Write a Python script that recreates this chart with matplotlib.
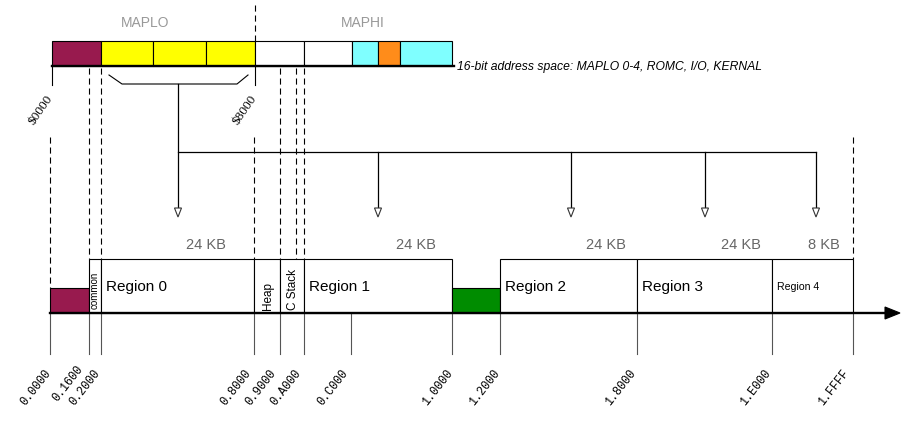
#!/usr/bin/env python3
"""Memory map diagram: 16-bit CPU view (MAPLO/MAPHI) over the 128 KB banked space."""

import matplotlib.pyplot as plt
from matplotlib.patches import Polygon, Rectangle

W, H = 902, 434
SANS = "Liberation Sans"
MONO = "Liberation Mono"
SERIF = "Liberation Serif"
DASH = (0, (5.5, 3.5))

# --- data ---------------------------------------------------------------
TOP_COLORS = ["#981A4E", "#FFFF00", "#FFFF00", "#FFFF00", "white", "white",
              "#7FFFFF", "#FF8C1A", "#7FFFFF"]
TOP_LABELS = ["$0000", "$8000"]
MAP_NAMES = ["MAPLO", "MAPHI"]
CAPTION = "16-bit address space: MAPLO 0-4, ROMC, I/O, KERNAL"

REGION_NAMES = ["", "common", "Region 0", "Heap", "C Stack", "Region 1", "",
                "Region 2", "Region 3", "Region 4"]
REGION_COLORS = ["#981A4E", "white", "white", "white", "white", "white",
                 "#008C00", "white", "white", "white"]
SIZE_LABELS = ["24 KB", "24 KB", "24 KB", "24 KB", "8 KB"]
TICK_LABELS = ["0.0000", "0.1600", "0.2000", "0.8000", "0.9000", "0.A000",
               "0.C000", "1.0000", "1.2000", "1.8000", "1.E000", "1.FFFF"]

# --- layout (pixel positions of the hand-drawn diagram) ------------------
TOP_EDGES = [52, 101, 153, 206, 255, 304, 352, 378, 400, 452]
TOP_Y0, TOP_Y1 = 41, 66
TOP_LABEL_END = [(50, 96), (254, 96)]
MAP_NAME_X = [145, 363]

REGION_EDGES = [50, 89, 101, 254, 280, 304, 452, 500, 637, 772, 853]
REGION_TOP = [288, 259, 259, 259, 259, 259, 288, 259, 259, 259]
AXIS_Y = 313
SIZE_X = [206, 416, 606, 741, 824]
TICK_X = [50, 89, 101, 254, 280, 304, 351, 452, 500, 637, 772, 853]
TICK_LABEL_END = [(49, 371), (81, 367), (98, 371), (249, 371), (274, 371),
                  (299, 371), (346, 371), (451, 371), (498, 371), (634, 371),
                  (769, 371), (847, 371)]
GUIDE_X = [89, 101, 280, 296, 304]
DROP_X = [178, 378, 571, 705, 816]


def main() -> None:
    fig = plt.figure(figsize=(W / 100, H / 100), dpi=100)
    fig.patch.set_facecolor("white")
    ax = fig.add_axes([0, 0, 1, 1])
    ax.set_xlim(0, W)
    ax.set_ylim(H, 0)
    ax.axis("off")

    # top 16-bit map
    for x0, x1, c in zip(TOP_EDGES[:-1], TOP_EDGES[1:], TOP_COLORS):
        ax.add_patch(Rectangle((x0, TOP_Y0), x1 - x0, TOP_Y1 - TOP_Y0,
                               facecolor=c, edgecolor="black", linewidth=0.8, zorder=2))
    ax.plot([TOP_EDGES[0], TOP_EDGES[-1] + 2], [TOP_Y1, TOP_Y1], color="black", lw=1.7, zorder=3)
    ax.text(TOP_EDGES[-1] + 5, TOP_Y1 + 1, CAPTION, fontsize=8.7, style="italic",
            family=SANS, ha="left", va="center")
    for name, x in zip(MAP_NAMES, MAP_NAME_X):
        ax.text(x, 23, name, fontsize=10, color="#999999", family=SANS, ha="center", va="center")

    # $8000 boundary above the bar
    ax.plot([255, 255], [5, TOP_Y0], color="black", lw=0.8, ls=DASH)

    # address labels of the 16-bit map
    for lbl, (ex, ey), tx in zip(TOP_LABELS, TOP_LABEL_END, [52, 255]):
        ax.plot([tx, tx], [TOP_Y1, 85], color="black", lw=0.8)
        ax.text(ex, ey, lbl, fontsize=9.5, family=SERIF, rotation=55,
                rotation_mode="anchor", ha="right", va="center")

    # dashed guides down to the banked view
    ax.plot([50, 50], [137, REGION_TOP[0]], color="black", lw=0.8, ls=DASH)
    ax.plot([254, 254], [137, 259], color="black", lw=0.8, ls=DASH)
    ax.plot([853, 853], [137, 259], color="black", lw=0.8, ls=DASH)
    for x in GUIDE_X:
        ax.plot([x, x], [TOP_Y1 + 2, 259], color="black", lw=0.8, ls=DASH)

    # bracket and fan-out arrows
    ax.plot([109, 122, 237, 248], [75, 84, 84, 75], color="black", lw=0.8)
    ax.plot([DROP_X[0], DROP_X[-1]], [152, 152], color="black", lw=0.9)
    for x in DROP_X:
        y_start = 84 if x == DROP_X[0] else 152
        ax.plot([x, x], [y_start, 208], color="black", lw=0.9)
        ax.add_patch(Polygon([(x - 3.5, 208), (x + 3.5, 208), (x, 217)], closed=True,
                             facecolor="white", edgecolor="#333333", linewidth=0.8, zorder=3))

    # banked regions
    for x0, x1, top, c, name in zip(REGION_EDGES[:-1], REGION_EDGES[1:], REGION_TOP,
                                    REGION_COLORS, REGION_NAMES):
        ax.add_patch(Rectangle((x0, top), x1 - x0, AXIS_Y - top, facecolor=c,
                               edgecolor="black", linewidth=0.8, zorder=2))
        if not name:
            continue
        if name == "common":
            ax.text((x0 + x1) / 2, 290, name, fontsize=7, family=SANS, rotation=90,
                    ha="center", va="center", zorder=4)
        elif name in ("Heap", "C Stack"):
            ax.text((x0 + x1) / 2 + 1, 296 if name == "Heap" else 289, name, fontsize=8.5,
                    family=SANS, rotation=90, ha="center", va="center", zorder=4)
        else:
            fs = 7.6 if name == "Region 4" else 11
            ax.text(x0 + 5, 287, name, fontsize=fs, family=SANS, ha="left",
                    va="center", zorder=4)

    for lbl, x in zip(SIZE_LABELS, SIZE_X):
        ax.text(x, 245, lbl, fontsize=10.5, color="#666666", family=SANS,
                ha="center", va="center")

    # address axis
    ax.plot([50, 887], [AXIS_Y, AXIS_Y], color="black", lw=1.7, zorder=5)
    ax.add_patch(Polygon([(885, AXIS_Y - 6), (900, AXIS_Y), (885, AXIS_Y + 6)], closed=True,
                         facecolor="black", edgecolor="black", linewidth=0.8, zorder=5))
    for lbl, x, (ex, ey) in zip(TICK_LABELS, TICK_X, TICK_LABEL_END):
        ax.plot([x, x], [AXIS_Y, 354], color="#555555", lw=0.8, zorder=4)
        ax.text(ex, ey, lbl, fontsize=8.5, family=MONO, rotation=52,
                rotation_mode="anchor", ha="right", va="center")

    fig.savefig("out.png", dpi=100)
    plt.close(fig)


if __name__ == "__main__":
    main()
